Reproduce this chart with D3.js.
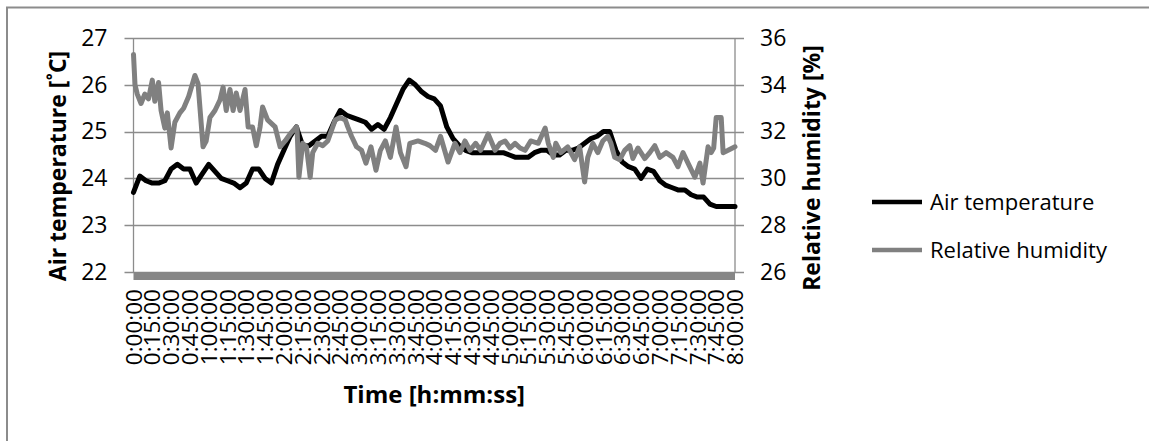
<!DOCTYPE html>
<html>
<head>
    <meta charset="utf-8">
    <title>Air temperature and relative humidity</title>
    <script src="https://d3js.org/d3.v7.min.js"></script>
    <style>
      body { margin: 0; background: #fff; }
      text { font-family: "Open Sans", sans-serif; fill: #000; }
    </style>
</head>
<body>
<div id="chart"></div>
<script type="text/javascript">
    // x tick labels (every 15 min)
    let timeLabels = ["0:00:00","0:15:00","0:30:00","0:45:00","1:00:00","1:15:00","1:30:00","1:45:00",
      "2:00:00","2:15:00","2:30:00","2:45:00","3:00:00","3:15:00","3:30:00","3:45:00",
      "4:00:00","4:15:00","4:30:00","4:45:00","5:00:00","5:15:00","5:30:00","5:45:00",
      "6:00:00","6:15:00","6:30:00","6:45:00","7:00:00","7:15:00","7:30:00","7:45:00","8:00:00"];
    let tempTicks = [22, 23, 24, 25, 26, 27];
    let humTicks = [26, 28, 30, 32, 34, 36];

    // air temperature, one reading every 5 minutes (deg C)
    let tempValues = [23.7, 24.05, 23.95, 23.9, 23.9, 23.95, 24.2, 24.3, 24.2, 24.2,
      23.9, 24.1, 24.3, 24.15, 24.0, 23.95, 23.9, 23.8, 23.9, 24.2,
      24.2, 24.0, 23.9, 24.3, 24.6, 24.9, 25.1, 24.7, 24.7, 24.8,
      24.9, 24.9, 25.2, 25.45, 25.35, 25.3, 25.25, 25.2, 25.05, 25.15,
      25.05, 25.3, 25.6, 25.9, 26.1, 26.0, 25.85, 25.75, 25.7, 25.55,
      25.1, 24.85, 24.7, 24.6, 24.55, 24.55, 24.55, 24.55, 24.55, 24.55,
      24.5, 24.45, 24.45, 24.45, 24.55, 24.6, 24.6, 24.5, 24.5, 24.6,
      24.6, 24.65, 24.75, 24.85, 24.9, 25.0, 25.0, 24.6, 24.35, 24.25,
      24.2, 24.0, 24.2, 24.15, 23.95, 23.85, 23.8, 23.75, 23.75, 23.65,
      23.6, 23.6, 23.45, 23.4, 23.4, 23.4, 23.4];

    // relative humidity, readings at uneven times (minutes, %)
    let humTimes = [0, 1.2, 3, 6, 9, 12, 15, 17, 20, 22, 25, 27, 30, 33, 37, 40, 44, 49, 51.5, 55.5,
      58, 61, 65, 69, 71.5, 74, 77, 79.5, 82, 85, 89, 91.5, 95, 98, 101, 103, 107, 113, 117, 121,
      125, 130, 130.5, 132, 135, 138, 141, 143, 147, 151, 155, 158, 161, 165, 169, 171, 174, 178, 182, 185.5,
      189.5, 193.5, 197, 201, 205, 209.5, 213, 217.5, 220.5, 227, 232.5, 236.5, 241, 245, 251, 256.5, 260.5, 264.5, 268.5, 273,
      277, 283, 288.5, 292.5, 296.5, 300.5, 304.5, 308.5, 312.5, 317, 323, 328.5, 331, 335, 337, 341, 346.5, 352, 356, 360,
      362.5, 366.5, 370.5, 374.5, 378.5, 381, 384, 388, 392, 396, 398.5, 402.5, 408, 412, 416, 420, 425, 430.5, 434.5, 438.5,
      442.5, 448, 452, 454.5, 458.5, 461, 463, 465, 469, 470.5, 474.5, 480];
    let humValues = [35.3, 34.0, 33.6, 33.2, 33.6, 33.4, 34.2, 33.3, 34.1, 32.9, 32.15, 32.8, 31.3, 32.4, 32.8, 33.0, 33.5, 34.4, 34.05, 31.35,
      31.6, 32.6, 32.9, 33.35, 33.9, 32.9, 33.8, 32.9, 33.65, 32.9, 33.8, 32.2, 32.2, 31.4, 32.2, 33.05, 32.5, 32.2, 31.35, 31.6,
      31.9, 32.2, 32.15, 30.05, 31.5, 31.35, 30.05, 31.1, 31.5, 31.4, 31.6, 32.05, 32.5, 32.6, 32.5, 32.2, 31.8, 31.35, 31.2, 30.65,
      31.35, 30.35, 31.2, 31.6, 30.9, 32.2, 31.1, 30.5, 31.5, 31.6, 31.5, 31.4, 31.2, 31.8, 30.7, 31.5, 31.1, 31.6, 31.2, 31.5,
      31.2, 31.9, 31.2, 31.5, 31.6, 31.3, 31.5, 31.3, 31.2, 31.6, 31.5, 32.15, 31.5, 30.9, 31.5, 31.1, 31.35, 30.8, 31.35, 29.85,
      30.9, 31.5, 31.1, 31.6, 31.8, 31.5, 30.9, 30.8, 31.2, 31.4, 30.85, 31.3, 30.85, 31.1, 31.4, 30.9, 31.1, 30.9, 30.5, 31.1,
      30.65, 30.05, 30.65, 29.8, 31.35, 31.1, 31.3, 32.6, 32.6, 31.1, 31.2, 31.35];

    let W = 1149, H = 441;
    let plot = {left: 133.5, right: 735, top: 38, bottom: 272};

    let svg = d3.select("#chart").append("svg")
        .attr("width", W).attr("height", H);

    // chart border
    svg.append("rect")
        .attr("x", 7).attr("y", 7.5)
        .attr("width", W + 20).attr("height", H + 20)
        .attr("fill", "none").attr("stroke", "#8c8c8c").attr("stroke-width", 2);

    let x = d3.scaleLinear().domain([0, 480]).range([plot.left, plot.right]);
    let yT = d3.scaleLinear().domain([22, 27]).range([plot.bottom, plot.top]);
    let yH = d3.scaleLinear().domain([26, 36]).range([plot.bottom, plot.top]);

    // gridlines, with short tick stubs on both sides
    svg.append("g").selectAll("line")
        .data(tempTicks)
        .enter().append("line")
            .attr("x1", plot.left - 9).attr("x2", plot.right + 9)
            .attr("y1", d => Math.round(yT(d)) + 0.5).attr("y2", d => Math.round(yT(d)) + 0.5)
            .attr("stroke", "#8c8c8c").attr("stroke-width", 1.3);

    // vertical axis lines
    svg.append("line")
        .attr("x1", plot.left).attr("x2", plot.left)
        .attr("y1", plot.top).attr("y2", plot.bottom)
        .attr("stroke", "#8c8c8c").attr("stroke-width", 1.3);
    svg.append("line")
        .attr("x1", plot.right).attr("x2", plot.right)
        .attr("y1", plot.top).attr("y2", plot.bottom)
        .attr("stroke", "#8c8c8c").attr("stroke-width", 1.3);

    // thick grey band along the bottom axis
    svg.append("rect")
        .attr("x", plot.left).attr("y", plot.bottom)
        .attr("width", plot.right - plot.left).attr("height", 8)
        .attr("fill", "#868686");

    // left axis labels
    let leftAxis = d3.axisLeft(yT).tickValues(tempTicks).tickFormat(d3.format("d"))
        .tickSize(0).tickPadding(26);
    let gl = svg.append("g").attr("transform", "translate(" + plot.left + ",0)").call(leftAxis);
    gl.select(".domain").remove();
    gl.selectAll("text").attr("font-size", "23px").attr("fill", "#000").style("font-family", "Open Sans");

    // right axis labels
    let rightAxis = d3.axisRight(yH).tickValues(humTicks).tickFormat(d3.format("d"))
        .tickSize(0).tickPadding(25);
    let gr = svg.append("g").attr("transform", "translate(" + plot.right + ",0)").call(rightAxis);
    gr.select(".domain").remove();
    gr.selectAll("text").attr("font-size", "23px").attr("fill", "#000").style("font-family", "Open Sans");

    // x tick labels, rotated
    svg.append("g").selectAll("text")
        .data(timeLabels)
        .enter().append("text")
            .attr("transform", (d, i) => "translate(" + x(i * 15) + ",289) rotate(-90)")
            .attr("dy", "0.36em")
            .attr("text-anchor", "end")
            .attr("font-size", "22.5px")
            .text(d => d);

    // lines
    let tempLine = d3.line()
        .x((d, i) => x(i * 5))
        .y(d => yT(d));
    let humLine = d3.line()
        .x((d, i) => x(humTimes[i]))
        .y(d => yH(d));

    svg.append("path")
        .datum(tempValues)
        .attr("d", tempLine)
        .attr("fill", "none").attr("stroke", "#000")
        .attr("stroke-width", 5).attr("stroke-linejoin", "round").attr("stroke-linecap", "round");

    svg.append("path")
        .datum(humValues)
        .attr("d", humLine)
        .attr("fill", "none").attr("stroke", "#808080")
        .attr("stroke-width", 5).attr("stroke-linejoin", "round").attr("stroke-linecap", "round");

    // axis titles
    svg.append("text")
        .attr("transform", "translate(58,166) rotate(-90)")
        .attr("dy", "0.35em")
        .attr("text-anchor", "middle")
        .attr("font-size", "23px").attr("font-weight", "bold")
        .text("Air temperature [˚C]");

    svg.append("text")
        .attr("transform", "translate(812,168) rotate(-90)")
        .attr("dy", "0.35em")
        .attr("text-anchor", "middle")
        .attr("font-size", "23px").attr("font-weight", "bold")
        .text("Relative humidity [%]");

    svg.append("text")
        .attr("x", (plot.left + plot.right) / 2).attr("y", 403)
        .attr("text-anchor", "middle")
        .attr("font-size", "24px").attr("font-weight", "bold")
        .text("Time [h:mm:ss]");

    // legend
    let legend = [
        {name: "Air temperature", color: "#000", y: 202},
        {name: "Relative humidity", color: "#808080", y: 250}
    ];
    let lg = svg.append("g").selectAll("g")
        .data(legend)
        .enter().append("g");
    lg.append("line")
        .attr("x1", 872).attr("x2", 922)
        .attr("y1", d => d.y).attr("y2", d => d.y)
        .attr("stroke", d => d.color).attr("stroke-width", 4.5);
    lg.append("text")
        .attr("x", 930).attr("y", d => d.y)
        .attr("dy", "0.36em")
        .attr("font-size", "22px")
        .text(d => d.name);
</script>
</body>
</html>
